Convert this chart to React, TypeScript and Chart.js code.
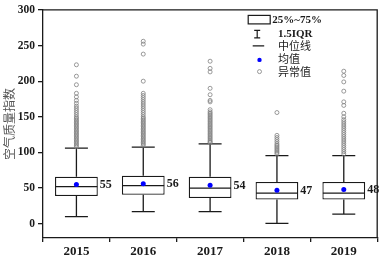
import React, { useEffect, useRef } from 'react';
import { Chart, registerables } from 'chart.js';
Chart.register(...registerables);

const years = ['2015', '2016', '2017', '2018', '2019'];
const q1 = [39, 40.5, 36, 34, 34];
const q3 = [66, 67.5, 66, 58.7, 58.7];
const medians = [52, 53.5, 50, 43, 43];
const whiskerLow = [10, 17, 17, 0.5, 13.5];
const whiskerHigh = [106, 107.5, 112, 95.5, 95.5];
const means = [55, 56, 54, 47, 48];
const out2015 = [223, 207, 195, 183, 178, 173, 169, 165, 162, 159, 156, 153, 150, 148, 146, 144, 142, 140, 138, 136, 134, 132, 130, 128, 126, 124, 122, 120, 118, 116, 114, 112, 110, 108];
const out2016 = [256, 252, 238, 200, 183, 180, 177, 174, 171, 168, 165, 162, 159, 156, 153, 150, 148, 146, 144, 142, 140, 138, 136, 134, 132, 130, 128, 126, 124, 122, 120, 118, 116, 114, 112, 110];
const out2017 = [228, 218, 213, 190, 181, 173, 171, 160, 157, 155, 153, 151, 149, 147, 145, 143, 141, 139, 137, 135, 133, 131, 129, 127, 125, 123, 121, 119, 117, 115, 114];
const out2018 = [156, 124, 121, 118, 115, 112, 110, 108, 106, 104, 102, 100, 98];
const out2019 = [214, 208, 199, 186, 171, 166, 155, 150, 146, 143, 140, 137, 134, 131, 128, 125, 122, 119, 116, 113, 110, 107, 104, 101, 98];
const outliers = [out2015, out2016, out2017, out2018, out2019];
const yTicks = [0, 50, 100, 150, 200, 250, 300];
const legendLabels = ['25%~75%', '1.5IQR', '中位线', '均值', '异常值'];
const yTitle = '空气质量指数';

const SERIF = '"Liberation Serif", "Times New Roman", serif';
const CJK = '"Noto Sans CJK SC", sans-serif';
const INK = '#1a1a1a';
const LW = 1.3;

const boxPlugin = {
  id: 'boxExtras',
  afterDatasetDraw(chart: any, args: any) {
    if (args.index !== 0) return;
    const ctx = chart.ctx;
    const ys = chart.scales.y;
    const meta = chart.getDatasetMeta(0);
    ctx.save();
    ctx.strokeStyle = INK;
    ctx.lineWidth = LW;
    meta.data.forEach((el: any, i: number) => {
      const { x, width } = el.getProps(['x', 'width'], true);
      const half = width / 2;
      const cap = 11.5;
      const yq1 = ys.getPixelForValue(q1[i]);
      const yq3 = ys.getPixelForValue(q3[i]);
      const ylo = ys.getPixelForValue(whiskerLow[i]);
      const yhi = ys.getPixelForValue(whiskerHigh[i]);
      const ymed = ys.getPixelForValue(medians[i]);
      ctx.beginPath();
      ctx.moveTo(x, yq3); ctx.lineTo(x, yhi);
      ctx.moveTo(x - cap, yhi); ctx.lineTo(x + cap, yhi);
      ctx.moveTo(x, yq1); ctx.lineTo(x, ylo);
      ctx.moveTo(x - cap, ylo); ctx.lineTo(x + cap, ylo);
      ctx.moveTo(x - half + 0.5, ymed); ctx.lineTo(x + half - 0.5, ymed);
      ctx.stroke();
    });
    ctx.restore();
  },
  afterDatasetsDraw(chart: any) {
    const ctx = chart.ctx;
    const ys = chart.scales.y;
    const meta = chart.getDatasetMeta(0);
    ctx.save();
    ctx.fillStyle = INK;
    ctx.font = `bold 12px ${SERIF}`;
    ctx.textAlign = 'left';
    ctx.textBaseline = 'middle';
    meta.data.forEach((el: any, i: number) => {
      const { x, width } = el.getProps(['x', 'width'], true);
      ctx.fillText(String(means[i]), x + width / 2 + 2, ys.getPixelForValue(means[i]) + 0.5);
    });
    ctx.restore();
  },
  afterDraw(chart: any) {
    const ctx = chart.ctx;
    const { top, right } = chart.chartArea;
    ctx.save();
    ctx.strokeStyle = INK;
    ctx.lineWidth = LW;
    ctx.beginPath();
    ctx.moveTo(chart.chartArea.left, top);
    ctx.lineTo(right, top);
    ctx.lineTo(right, chart.chartArea.bottom);
    ctx.stroke();

    // legend
    const L = right - 130;
    const rows = [top + 10, top + 24, top + 35.5, top + 50, top + 61.7];
    ctx.lineWidth = 1.2;
    // box icon
    ctx.strokeRect(L + 1, rows[0] - 4.5, 22, 8.5);
    // whisker icon
    ctx.beginPath();
    ctx.moveTo(L + 10, rows[1] - 3.5); ctx.lineTo(L + 10, rows[1] + 4);
    ctx.moveTo(L + 7, rows[1] - 3.5); ctx.lineTo(L + 13, rows[1] - 3.5);
    ctx.moveTo(L + 7, rows[1] + 4); ctx.lineTo(L + 13, rows[1] + 4);
    ctx.moveTo(L + 5.5, rows[2] + 0.5); ctx.lineTo(L + 17, rows[2] + 0.5);
    ctx.stroke();
    ctx.fillStyle = '#0000ff';
    ctx.beginPath();
    ctx.arc(L + 12.3, rows[3], 2.2, 0, Math.PI * 2);
    ctx.fill();
    ctx.strokeStyle = '#808080';
    ctx.lineWidth = 0.8;
    ctx.beginPath();
    ctx.arc(L + 12.3, rows[4], 2, 0, Math.PI * 2);
    ctx.stroke();

    ctx.fillStyle = INK;
    ctx.textAlign = 'left';
    ctx.textBaseline = 'middle';
    ctx.font = `bold 11px ${SERIF}`;
    ctx.fillText(legendLabels[0], L + 25, rows[0] + 0.5);
    ctx.fillText(legendLabels[1], L + 30.7, rows[1] + 0.5);
    ctx.font = `11px ${CJK}`;
    ctx.fillText(legendLabels[2], L + 30.7, rows[2]);
    ctx.fillText(legendLabels[3], L + 30.7, rows[3] - 1);
    ctx.fillText(legendLabels[4], L + 30.7, rows[4]);
    ctx.restore();
  },
};

export default function App() {
  const ref = useRef<HTMLCanvasElement>(null);
  useEffect(() => {
    document.body.style.margin = '0';
    const outlierData = years.flatMap((y, i) => outliers[i].map((v) => ({ x: y, y: v })));
    const chart = new Chart(ref.current as HTMLCanvasElement, {
      type: 'bar',
      data: {
        labels: years,
        datasets: [
          {
            type: 'bar',
            label: 'box',
            data: years.map((_, i) => [q1[i], q3[i]]) as any,
            backgroundColor: '#ffffff',
            borderColor: INK,
            borderWidth: LW,
            borderSkipped: false,
            barPercentage: 0.64,
            categoryPercentage: 1,
            order: 3,
          } as any,
          {
            type: 'line',
            label: 'outliers',
            data: outlierData as any,
            showLine: false,
            pointStyle: 'circle',
            pointRadius: 2,
            pointBorderWidth: 0.8,
            pointBorderColor: '#808080',
            pointBackgroundColor: 'rgba(255,255,255,0)',
            order: 2,
          } as any,
          {
            type: 'line',
            label: 'mean',
            data: years.map((y, i) => ({ x: y, y: means[i] })) as any,
            showLine: false,
            pointRadius: 2.5,
            pointBackgroundColor: '#0000ff',
            pointBorderWidth: 0,
            order: 1,
          } as any,
        ],
      },
      options: {
        animation: false,
        responsive: true,
        maintainAspectRatio: false,
        layout: { padding: { top: 9, right: 1, left: 0, bottom: 0 } },
        plugins: { legend: { display: false }, tooltip: { enabled: false } },
        scales: {
          x: {
            type: 'category',
            offset: true,
            afterFit: (s: any) => { s.height = 20; },
            grid: { display: true, drawOnChartArea: false, drawTicks: true, tickLength: 4, color: INK, lineWidth: LW },
            border: { display: true, color: INK, width: LW },
            ticks: { color: INK, padding: 2, font: { family: SERIF, size: 13, weight: 'bold' } },
          },
          y: {
            type: 'linear',
            min: -20,
            max: 300,
            afterFit: (s: any) => { s.width = 43; },
            afterBuildTicks: (s: any) => { s.ticks = yTicks.map((v) => ({ value: v })); },
            grid: { display: true, drawOnChartArea: false, drawTicks: true, tickLength: 5, color: INK, lineWidth: LW },
            border: { display: true, color: INK, width: LW },
            ticks: { color: INK, padding: 3, font: { family: SERIF, size: 11.5, weight: 'bold' } },
            title: { display: true, text: yTitle, color: '#555555', padding: { top: 2, bottom: 0 }, font: { family: CJK, size: 12 } },
          },
        },
      } as any,
      plugins: [boxPlugin as any],
    });
    return () => chart.destroy();
  }, []);
  return (
    <div style={{ width: 382, height: 258, position: 'relative' }}>
      <canvas ref={ref} />
    </div>
  );
}
